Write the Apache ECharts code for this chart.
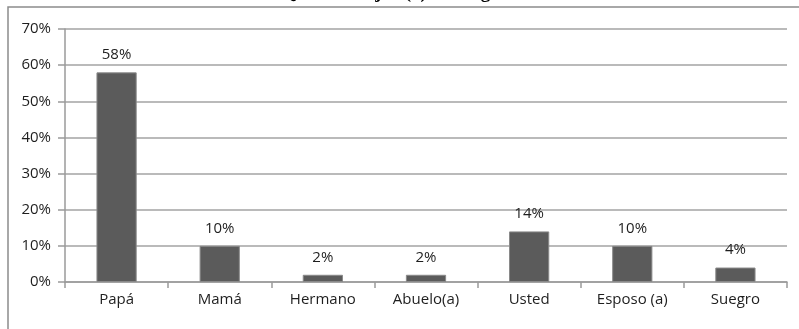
<!DOCTYPE html>
<html>
<head>
<meta charset="utf-8">
<script src="https://cdn.jsdelivr.net/npm/echarts@6/dist/echarts.min.js"></script>
<style>
html,body{margin:0;padding:0;background:#fff;}
#chart{width:799px;height:329px;}
</style>
</head>
<body>
<div id="chart"></div>
<script>
// Household head categories and their shares (%)
const categories = ['Papá', 'Mamá', 'Hermano', 'Abuelo(a)', 'Usted', 'Esposo (a)', 'Suegro'];
const shares = [58, 10, 2, 2, 14, 10, 4];
const yTicks = [0, 10, 20, 30, 40, 50, 60, 70];
const titleText = 'Quién es el jefe(a) del hogar';

const chart = echarts.init(document.getElementById('chart'), null, {renderer: 'canvas'});
const labelFont = '"Open Sans", "Noto Sans", sans-serif';

chart.setOption({
  animation: false,
  backgroundColor: '#ffffff',
  graphic: [
    {
      type: 'rect',
      shape: {x: 8, y: 7, width: 900, height: 400},
      style: {fill: 'none', stroke: '#8c8c8c', lineWidth: 1.5},
      silent: true
    },
    {
      type: 'text',
      x: 395, y: 3,
      style: {
        text: titleText,
        font: 'bold 19px "Liberation Serif", serif',
        fill: '#000',
        align: 'center',
        verticalAlign: 'bottom'
      }
    }
  ],
  grid: {left: 65, right: 12, top: 29, bottom: 47},
  xAxis: {
    type: 'category',
    data: categories,
    axisLine: {lineStyle: {color: '#9a9a9a', width: 1.5}},
    axisTick: {show: true, length: 6, alignWithLabel: false, lineStyle: {color: '#9a9a9a', width: 1.5}},
    axisLabel: {color: '#1e1e1e', fontSize: 15, fontFamily: labelFont, margin: 10}
  },
  yAxis: {
    type: 'value',
    min: yTicks[0],
    max: yTicks[yTicks.length - 1],
    interval: 10,
    axisLine: {show: true, lineStyle: {color: '#9a9a9a', width: 1.5}},
    axisTick: {show: true, length: 7, lineStyle: {color: '#9a9a9a', width: 1.5}},
    axisLabel: {color: '#1e1e1e', fontSize: 15, fontFamily: labelFont, margin: 14, formatter: '{value}%'},
    splitLine: {show: true, lineStyle: {color: '#a3a3a3', width: 1.5}}
  },
  series: [{
    type: 'bar',
    data: shares,
    barWidth: '39%',
    itemStyle: {color: '#5b5b5b', borderColor: '#8a8a8a', borderWidth: 1},
    label: {
      show: true,
      position: 'top',
      distance: 10,
      color: '#1e1e1e',
      fontSize: 15,
      fontFamily: labelFont,
      formatter: '{c}%'
    }
  }]
});
</script>
</body>
</html>
